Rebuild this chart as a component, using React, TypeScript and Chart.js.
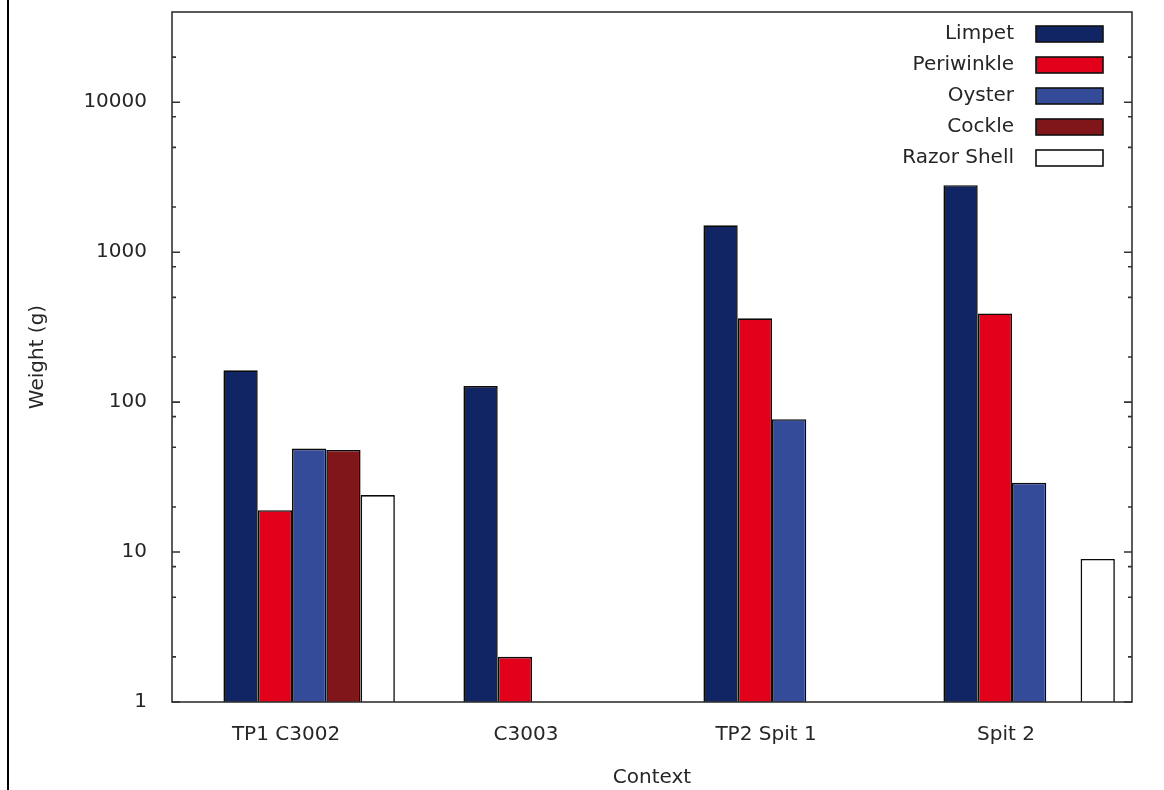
import React, { useEffect, useRef } from 'react';
import { Chart, registerables } from 'chart.js';

Chart.register(...registerables);

const categories = ['TP1 C3002', 'C3003', 'TP2 Spit 1', 'Spit 2'];
const seriesNames = ['Limpet', 'Periwinkle', 'Oyster', 'Cockle', 'Razor Shell'];
const limpet = [163, 128, 1510, 2800];
const periwinkle = [19, 2, 362, 390];
const oyster = [49, null, 77, 29];
const cockle = [48, null, null, null];
const razorShell = [24, null, null, 9];
const seriesColors = ['#112464', '#e2001a', '#344b9a', '#801619', '#ffffff'];
const yTickValues = [1, 2, 5, 8, 10, 20, 50, 80, 100, 200, 500, 800, 1000, 2000, 5000, 8000, 10000, 20000];
const yMajorTicks = [1, 10, 100, 1000, 10000];
const yMin = 1;
const yMax = 40000;

const TEXT = '#262626';
const FONT = { family: '"DejaVu Sans", sans-serif', size: 20 };

const framePlugin = {
  id: 'gnuFrame',
  afterDatasetsDraw(chart: any) {
    const { ctx, chartArea: a, scales } = chart;
    const y = scales.y;
    ctx.save();
    ctx.strokeStyle = '#333';
    ctx.lineWidth = 1.6;
    ctx.beginPath();
    y.ticks.forEach((t: any) => {
      const py = y.getPixelForValue(t.value);
      const len = yMajorTicks.includes(t.value) ? 8 : 4;
      ctx.moveTo(a.left, py);
      ctx.lineTo(a.left + len, py);
      ctx.moveTo(a.right, py);
      ctx.lineTo(a.right - len, py);
    });
    ctx.stroke();
    ctx.strokeRect(a.left, a.top, a.right - a.left, a.bottom - a.top);

    // legend (top right, inside plot)
    ctx.font = `${FONT.size}px ${FONT.family}`;
    ctx.textAlign = 'right';
    ctx.textBaseline = 'middle';
    let row = 0;
    chart.data.datasets.forEach((ds: any) => {
      if (!ds.label) return;
      const cy = a.top + 22 + row * 31;
      ctx.fillStyle = TEXT;
      ctx.fillText(ds.label, a.right - 118, cy);
      ctx.fillStyle = ds.backgroundColor;
      ctx.fillRect(a.right - 96, cy - 8, 67, 16);
      ctx.strokeStyle = '#111';
      ctx.lineWidth = 1.6;
      ctx.strokeRect(a.right - 96, cy - 8, 67, 16);
      row++;
    });
    ctx.restore();
  },
};

export default function App() {
  const ref = useRef<HTMLCanvasElement | null>(null);

  useEffect(() => {
    if (!ref.current) return;
    const values = [limpet, periwinkle, oyster, cockle, razorShell];
    const datasets: any[] = [
      { label: '', data: categories.map(() => null), backgroundColor: 'transparent', borderWidth: 0 },
      ...seriesNames.map((name, i) => ({
        label: name,
        data: values[i],
        backgroundColor: seriesColors[i],
        borderColor: '#0a0a0a',
        borderWidth: 1.6,
      })),
    ];
    const chart = new Chart(ref.current, {
      type: 'bar',
      data: { labels: categories, datasets },
      options: {
        animation: false,
        responsive: false,
        maintainAspectRatio: false,
        datasets: { bar: { categoryPercentage: 6 / 7, barPercentage: 1 } },
        layout: { padding: { left: 0, right: 32, top: 12, bottom: 0 } },
        plugins: { legend: { display: false }, tooltip: { enabled: false } },
        scales: {
          x: {
            type: 'category',
            offset: true,
            grid: { display: false, drawTicks: false },
            border: { display: false },
            ticks: { color: TEXT, font: FONT, padding: 21, labelOffset: -6, maxRotation: 0, autoSkip: false },
            title: { display: true, text: 'Context', color: TEXT, font: FONT, padding: { top: 0, bottom: 0 } },
            afterFit: (s: any) => { s.height = 88; s.paddingLeft = 0; s.paddingRight = 0; },
          },
          y: {
            type: 'logarithmic',
            min: yMin,
            max: yMax,
            grid: { display: false, drawTicks: false },
            border: { display: false },
            afterBuildTicks: (s: any) => { s.ticks = yTickValues.map((v) => ({ value: v })); },
            ticks: {
              color: TEXT,
              font: FONT,
              padding: 25,
              autoSkip: false,
              callback: (v: any) => (yMajorTicks.includes(Number(v)) ? String(v) : ''),
            },
            title: { display: true, text: 'Weight (g)', color: TEXT, font: FONT, padding: { top: 26, bottom: 0 } },
            afterFit: (s: any) => { s.width = 172; s.paddingTop = 0; s.paddingBottom = 0; },
          },
        },
      },
      plugins: [framePlugin],
    } as any);
    return () => chart.destroy();
  }, []);

  return (
    <div style={{ position: 'fixed', left: 0, top: 0, width: 1164, height: 790, background: '#fff' }}>
      <div style={{ position: 'absolute', left: 7, top: 0, width: 2, height: 790, background: '#000' }} />
      <canvas ref={ref} width={1164} height={790} style={{ width: 1164, height: 790, display: 'block' }} />
    </div>
  );
}
